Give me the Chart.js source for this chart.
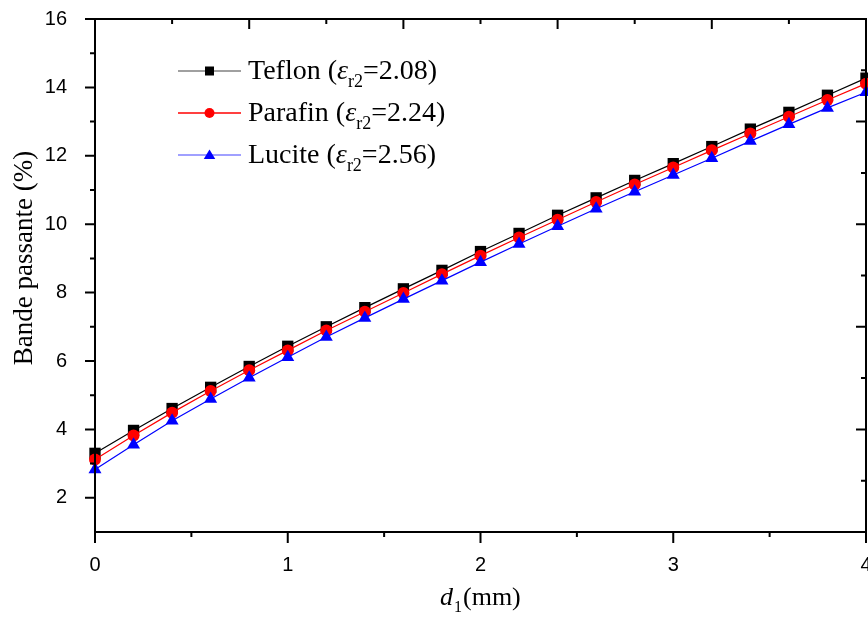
<!DOCTYPE html>
<html>
<head>
<meta charset="utf-8">
<script src="https://cdn.jsdelivr.net/npm/chart.js@4.4.1/dist/chart.umd.min.js"></script>
<style>
  html, body { margin: 0; padding: 0; background: #fff; }
  #wrap { width: 868px; height: 617px; }
</style>
</head>
<body>
<div id="wrap"><canvas id="chart" width="868" height="617"></canvas></div>
<script>
// values
const d1 = [0, 0.2, 0.4, 0.6, 0.8, 1.0, 1.2, 1.4, 1.6, 1.8, 2.0, 2.2, 2.4, 2.6, 2.8, 3.0, 3.2, 3.4, 3.6, 3.8, 4.0];
const teflon = [3.30, 3.97, 4.61, 5.23, 5.84, 6.43, 7.00, 7.56, 8.11, 8.65, 9.20, 9.73, 10.26, 10.77, 11.28, 11.77, 12.27, 12.78, 13.27, 13.77, 14.27];
const parafin = [3.12, 3.82, 4.49, 5.12, 5.73, 6.31, 6.89, 7.44, 7.99, 8.54, 9.08, 9.61, 10.13, 10.65, 11.16, 11.66, 12.16, 12.65, 13.14, 13.63, 14.11];
const lucite = [2.83, 3.55, 4.25, 4.89, 5.51, 6.11, 6.70, 7.26, 7.81, 8.35, 8.89, 9.42, 9.94, 10.45, 10.95, 11.44, 11.93, 12.43, 12.92, 13.40, 13.86];

const seriesNames = ["Teflon", "Parafin", "Lucite"];
const epsValues = ["2.08", "2.24", "2.56"];

const xTickValues = [0, 1, 2, 3, 4];
const xMinorTicks = [0.5, 1.5, 2.5, 3.5];
const yTickValues = [2, 4, 6, 8, 10, 12, 14, 16];
const yMinorTicks = [3, 5, 7, 9, 11, 13, 15];
const topMajorTicks = [0, 0.8, 1.6, 2.4, 3.2, 4];
const topMinorTicks = [0.4, 1.2, 2.0, 2.8, 3.6];
const rightMajorTicks = [1, 4, 7, 10, 13, 16];
const rightMinorTicks = [2.5, 5.5, 8.5, 11.5, 14.5];

const SERIF = "'Liberation Serif', 'Times New Roman', serif";
const SANS = "'Liberation Sans', Arial, sans-serif";

function points(ys) {
    return d1.map((x, i) => ({ x: x, y: ys[i] }));
}

function drawMarker(ctx, style, x, y, r, color) {
    ctx.fillStyle = color;
    ctx.beginPath();
    if (style === "rect") {
        ctx.rect(x - r, y - r, 2 * r, 2 * r);
    } else if (style === "circle") {
        ctx.arc(x, y, r, 0, Math.PI * 2);
    } else {
        ctx.moveTo(x, y - r * 1.1);
        ctx.lineTo(x + r * 1.15, y + r * 0.8);
        ctx.lineTo(x - r * 1.15, y + r * 0.8);
        ctx.closePath();
    }
    ctx.fill();
}

const framePlugin = {
    id: "frame",
    afterDraw(chart) {
        const { ctx, chartArea: a, scales } = chart;
        const xs = scales.x, ys = scales.y;
        ctx.save();
        ctx.strokeStyle = "#000";
        ctx.lineWidth = 2;
        ctx.strokeRect(a.left, a.top, a.right - a.left, a.bottom - a.top);

        ctx.beginPath();
        // bottom axis, outward
        xTickValues.forEach(v => { const p = xs.getPixelForValue(v); ctx.moveTo(p, a.bottom); ctx.lineTo(p, a.bottom + 11); });
        xMinorTicks.forEach(v => { const p = xs.getPixelForValue(v); ctx.moveTo(p, a.bottom); ctx.lineTo(p, a.bottom + 5); });
        // left axis, outward
        yTickValues.forEach(v => { const p = ys.getPixelForValue(v); ctx.moveTo(a.left, p); ctx.lineTo(a.left - 10, p); });
        yMinorTicks.forEach(v => { const p = ys.getPixelForValue(v); ctx.moveTo(a.left, p); ctx.lineTo(a.left - 5, p); });
        // top axis, inward
        topMajorTicks.forEach(v => { const p = xs.getPixelForValue(v); ctx.moveTo(p, a.top); ctx.lineTo(p, a.top + 10); });
        topMinorTicks.forEach(v => { const p = xs.getPixelForValue(v); ctx.moveTo(p, a.top); ctx.lineTo(p, a.top + 5); });
        // right axis, inward
        rightMajorTicks.forEach(v => { const p = ys.getPixelForValue(v); ctx.moveTo(a.right, p); ctx.lineTo(a.right - 10, p); });
        rightMinorTicks.forEach(v => { const p = ys.getPixelForValue(v); ctx.moveTo(a.right, p); ctx.lineTo(a.right - 5, p); });
        ctx.stroke();

        // y axis title
        ctx.fillStyle = "#000";
        ctx.save();
        ctx.translate(25, 258);
        ctx.rotate(-Math.PI / 2);
        ctx.font = "27px " + SERIF;
        ctx.textAlign = "center";
        ctx.textBaseline = "middle";
        ctx.fillText("Bande passante (%)", 0, 0);
        ctx.restore();

        // x axis title: d1(mm)
        ctx.textAlign = "left";
        ctx.textBaseline = "alphabetic";
        let tx = 440;
        const tb = 605;
        ctx.font = "italic 26px " + SERIF;
        ctx.fillText("d", tx, tb);
        tx += ctx.measureText("d").width + 1;
        ctx.font = "16px " + SERIF;
        ctx.fillText("1", tx, tb + 7);
        tx += ctx.measureText("1").width + 1;
        ctx.font = "26px " + SERIF;
        ctx.fillText("(mm)", tx, tb);

        // legend
        const rows = [71, 113, 155];
        const lineColors = ["#808080", "#ff0000", "#8080ff"];
        const markColors = ["#000000", "#ff0000", "#0000ff"];
        const styles = ["rect", "circle", "triangle"];
        rows.forEach((ry, i) => {
            ctx.strokeStyle = lineColors[i];
            ctx.lineWidth = 1.5;
            ctx.beginPath();
            ctx.moveTo(178, ry);
            ctx.lineTo(241, ry);
            ctx.stroke();
            drawMarker(ctx, styles[i], 209.5, ry, i === 0 ? 4.5 : 5, markColors[i]);

            ctx.fillStyle = "#000";
            let lx = 248;
            const base = ry + 8;
            ctx.font = "28px " + SERIF;
            const head = seriesNames[i] + " (";
            ctx.fillText(head, lx, base);
            lx += ctx.measureText(head).width;
            ctx.font = "italic 28px " + SERIF;
            ctx.fillText("\u03b5", lx, base);
            lx += ctx.measureText("\u03b5").width;
            ctx.font = "18px " + SERIF;
            ctx.fillText("r2", lx, base + 8);
            lx += ctx.measureText("r2").width;
            ctx.font = "28px " + SERIF;
            ctx.fillText("=" + epsValues[i] + ")", lx, base);
        });
        ctx.restore();
    }
};

const datasets = [
    { label: "Teflon", data: points(teflon), borderColor: "#000000", backgroundColor: "#000000",
      pointStyle: "rect", pointRadius: 8, order: 3 },
    { label: "Parafin", data: points(parafin), borderColor: "#ff0000", backgroundColor: "#ff0000",
      pointStyle: "circle", pointRadius: 6, order: 2 },
    { label: "Lucite", data: points(lucite), borderColor: "#0000ff", backgroundColor: "#0000ff",
      pointStyle: "triangle", pointRadius: 7.5, order: 1 }
];
datasets.forEach(ds => {
    ds.borderWidth = 1.2;
    ds.pointBorderWidth = 0;
    ds.pointHoverRadius = ds.pointRadius;
    ds.tension = 0;
    ds.clip = false;
});

new Chart(document.getElementById("chart"), {
    type: "line",
    data: { datasets: datasets },
    options: {
        responsive: false,
        animation: false,
        devicePixelRatio: 1,
        layout: { autoPadding: false, padding: { top: 19, right: 2, left: 0, bottom: 0 } },
        plugins: { legend: { display: false }, tooltip: { enabled: false } },
        scales: {
            x: {
                type: "linear",
                min: 0, max: 4,
                grid: { display: false },
                border: { display: false },
                afterBuildTicks: s => { s.ticks = xTickValues.map(v => ({ value: v })); },
                afterFit: s => { s.height = 85; s.paddingLeft = 0; s.paddingRight = 0; },
                ticks: { color: "#000", font: { family: SANS, size: 20 }, padding: 13, maxRotation: 0, autoSkip: false }
            },
            y: {
                min: 1, max: 16,
                grid: { display: false },
                border: { display: false },
                afterBuildTicks: s => { s.ticks = yTickValues.map(v => ({ value: v })); },
                afterFit: s => { s.width = 95; s.paddingTop = 0; s.paddingBottom = 0; },
                ticks: { color: "#000", font: { family: SANS, size: 20 }, padding: 20 }
            }
        }
    },
    plugins: [framePlugin]
});
</script>
</body>
</html>
